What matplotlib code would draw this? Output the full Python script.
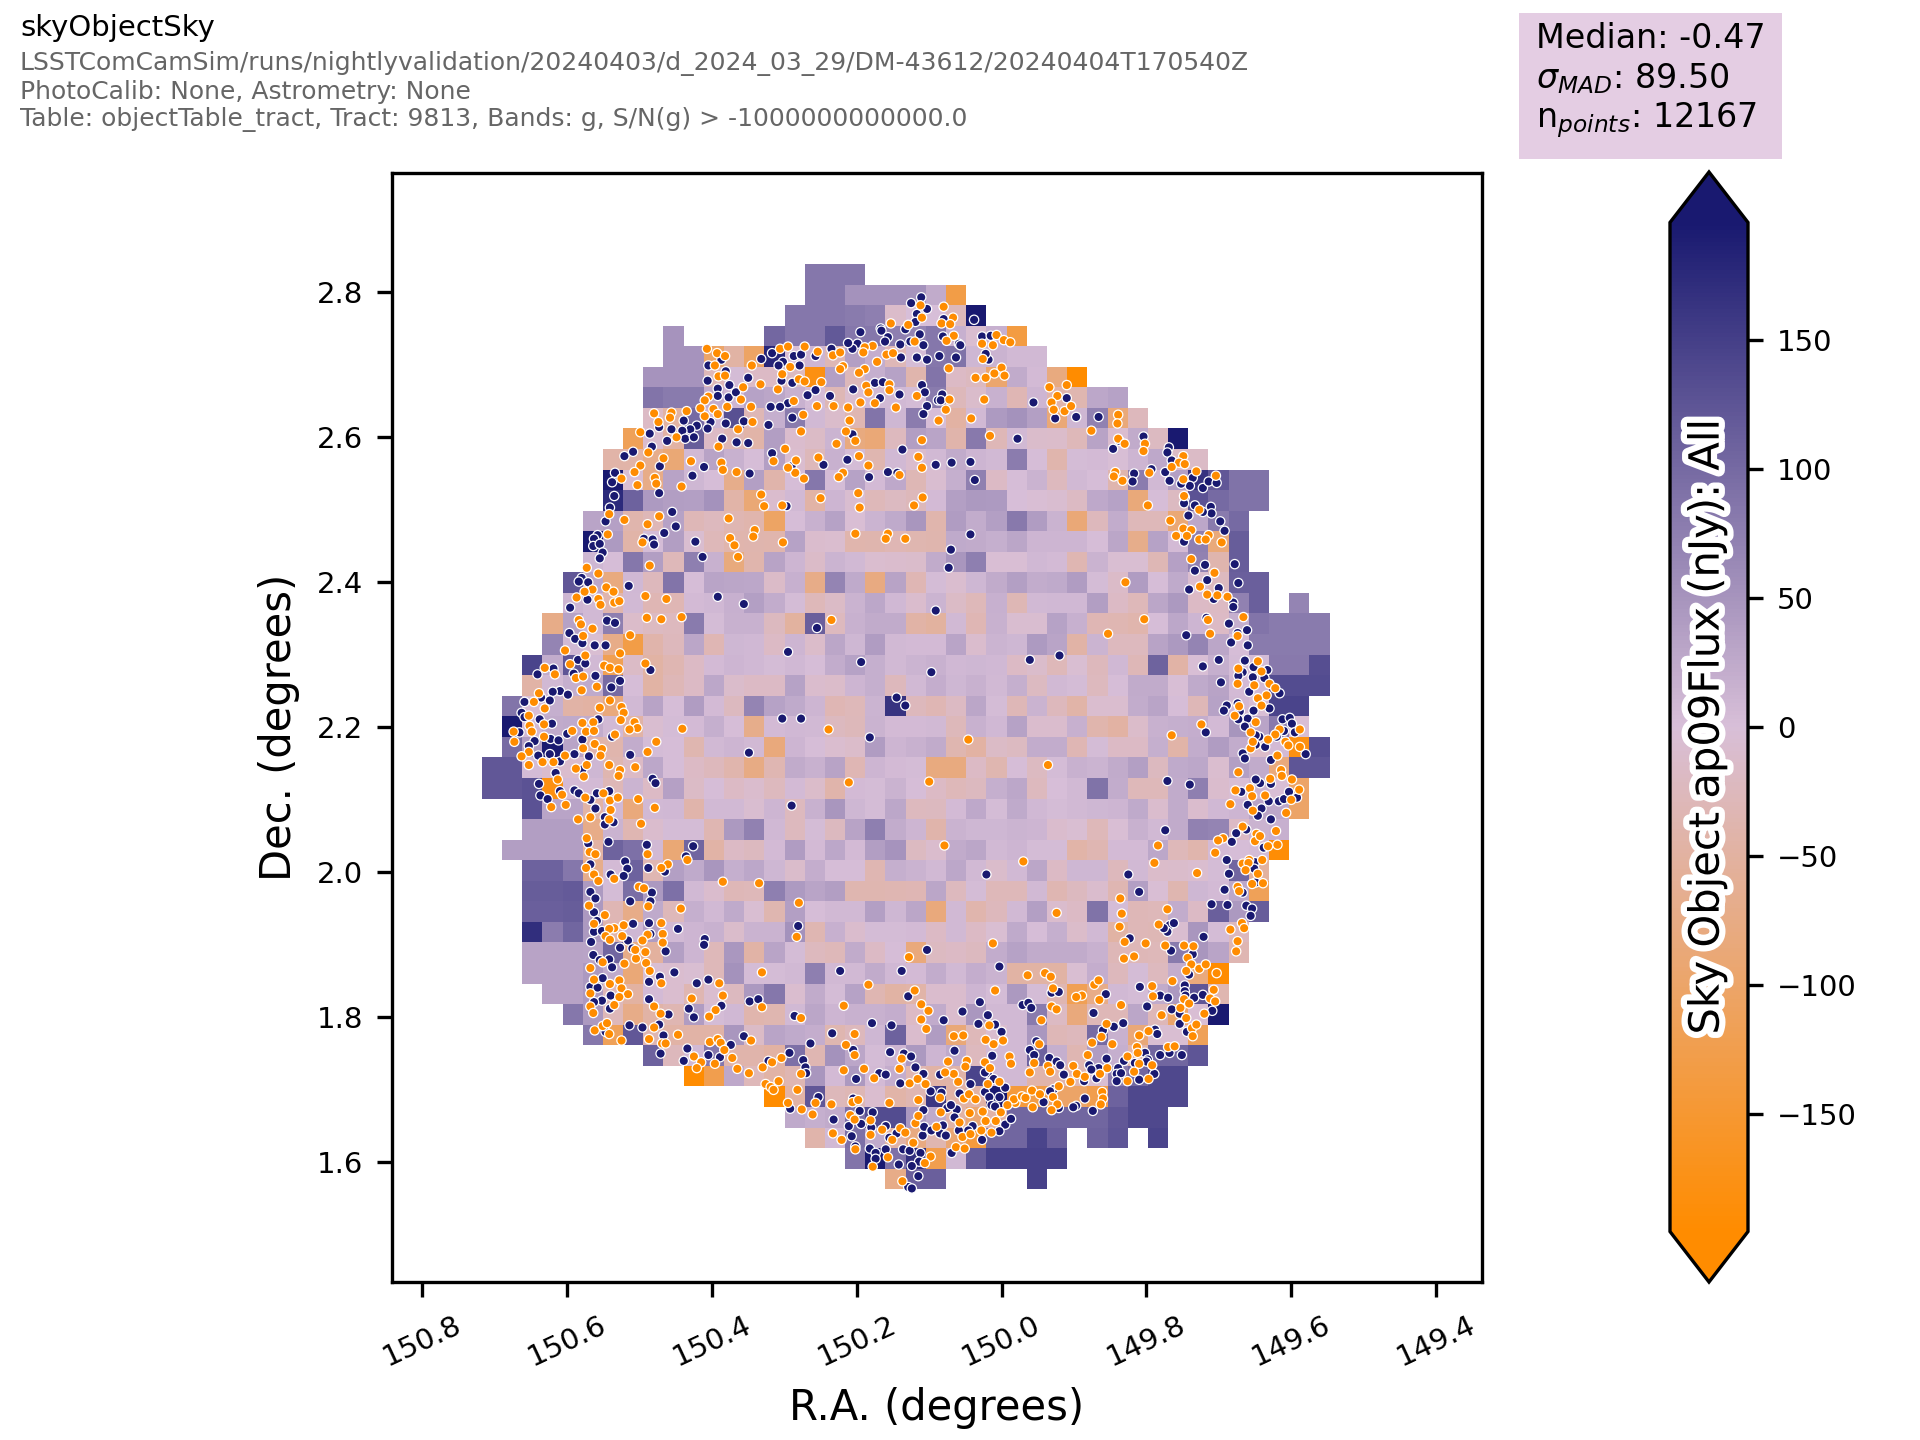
import matplotlib
matplotlib.use("Agg")
import numpy as np
import matplotlib.pyplot as plt
import matplotlib.patheffects as pe
from matplotlib.colors import LinearSegmentedColormap, Normalize
from matplotlib.cm import ScalarMappable
from matplotlib.patches import Rectangle

_ = float('nan')
# median flux per sky bin (nJy), north to south, east to west
flux_rows = [
[_]*16+[85,85,85],
[_]*16+[85,85,68,68,68,68,31,-130],
[_]*15+[85,85,85,80,75,-17,0,0,-35,197],
[_]*9+[65]+[_]*4+[103,85,85,120,85,85,75,70,85,22,-8,22,-135],
[_]*9+[65,65,-100,-60,-105,180,-5,15,-40,48,27,-38,5,85,90,12,18,8,8],
[_]*8+[65,65,65,-37,5,-22,-22,-26,-180,48,-35,25,45,-50,88,-22,-28,-95,31,7,-80,-197],
[_]*8+[88,80,80,28,15,45,38,20,4,-40,-10,8,8,5,80,-35,-14,20,-42,15,-52,-47,36,45],
[_]*8+[-22,-60,100,12,130,-40,25,80,8,-14,-45,88,13,78,3,-62,8,55,68,48,-88,13,72,-85,-32],
[_]*7+[-115,-12,-62,115,-22,-40,-55,50,-12,-20,16,-80,-88,-30,50,40,-52,82,-38,8,-14,-17,-36,42,-10,30,-26,197],
[_]*6+[-55,-55,-70,-90,8,42,20,3,48,-10,-35,20,5,-46,9,-12,8,30,15,8,78,2,-50,4,6,-3,15,35,-20,-20],
[_]*6+[197,-6,-72,42,13,3,-70,48,-52,3,85,4,45,7,35,-40,-8,25,74,-22,3,19,-30,8,3,-48,78,8,48,165,122,90,90],
[_]*6+[175,110,55,50,48,68,-55,-90,-12,8,-58,15,-8,-36,-26,-35,6,48,58,55,0,-4,-8,-24,35,45,-85,2,-26,128,100,90,90],
[_]*5+[40,46,-50,-38,45,-38,-30,-45,-50,-105,3,20,45,-4,16,32,62,-50,52,28,48,82,52,18,-88,-32,28,-36,-36,-90,36,80,100],
[_]*5+[197,55,-55,5,50,-8,-36,-50,-48,-50,45,-12,-10,-50,-48,-42,-46,-48,33,31,25,38,15,14,14,3,38,-70,45,7,75,-85,115],
[_]*5+[12,3,85,50,-36,75,20,-82,-50,42,14,-18,17,9,-10,-13,-14,31,62,75,-5,-4,10,7,-45,19,-6,-6,-40,47,72,-48,115],
[_]*4+[122,36,-80,10,-32,88,3,40,38,36,-18,22,-72,70,33,-78,43,-42,5,-10,12,30,48,28,33,52,4,-18,52,2,33,-10,-28,112,112],
[_]*4+[15,8,-50,8,-42,-42,7,10,22,48,28,5,-36,-20,18,37,10,-13,17,-20,-36,23,-40,9,10,11,50,-22,-36,38,58,-22,-24,72,112,_,70],
[_]*3+[-72,45,9,75,-17,-26,-30,80,5,21,21,-28,-65,112,-30,20,31,31,-58,-66,8,-42,21,-8,-8,45,22,-42,-44,-50,2,36,14,-22,25,88,80,80,80],
[_]*3+[70,8,-6,-72,-130,-52,-32,38,-42,13,10,-22,15,-16,38,13,52,8,6,7,40,-12,17,13,55,40,-58,17,-30,-30,43,58,70,38,3,80,80,80,80],
[_]*2+[145,28,125,8,-120,-20,-60,-44,-22,7,15,10,5,10,3,28,45,24,8,16,20,10,12,10,-22,-14,-36,-7,-32,10,-38,108,-58,-2,24,4,4,82,82,132],
[_]*2+[-58,8,25,33,98,3,-60,-38,-22,36,-14,-22,-22,45,-12,-16,15,24,-32,9,27,13,21,8,25,-26,9,5,-30,2,31,31,-3,33,42,6,9,135,135,135],
[_]*1+[88,-5,25,-58,-62,-84,9,42,3,52,7,-28,70,45,33,15,-42,-37,16,165,-32,-42,-24,38,4,-38,18,-32,-56,-11,-11,29,41,3,-38,44,9,-2,145,145],
[_]*1+[197,8,31,33,28,9,-58,-8,4,6,25,3,-70,6,11,8,-28,-34,18,6,7,9,-35,20,10,45,-12,-12,22,-50,-62,-17,20,25,26,7,64,41,82,-4],
[_]*1+[98,50,197,41,-52,-50,28,5,2,-46,9,14,8,-84,15,3,-11,-16,52,14,20,31,-46,-62,-20,-26,28,28,-42,5,-22,-22,25,-56,28,52,28,-16,6,-180,132],
[122,122,5,-12,-12,12,-46,-22,36,2,-22,-32,-50,-76,-44,31,20,42,-42,15,6,4,-80,-80,-22,-46,2,-27,5,20,16,31,48,-28,32,36,-11,48,30,-84,125,125],
[122,122,128,-180,7,7,-38,16,-22,46,-20,3,-22,-12,-30,6,-17,-52,6,4,18,3,-22,-36,-28,25,36,-30,0,8,90,28,-36,-36,31,75,-12,-3,16,-3,-102],
[_]*2+[128,41,41,-58,8,-84,8,11,-52,9,9,-8,14,-30,21,62,12,5,36,-30,-28,7,34,4,33,11,4,8,12,15,32,-13,31,-13,10,15,41,36,-102],
[_]*2+[50,50,50,-72,18,-44,-12,4,4,-44,58,72,11,-30,5,-28,43,75,28,15,-52,18,12,12,16,14,-13,-6,-36,-4,21,9,30,72,70,-22,18,22],
[_]*1+[50,50,50,50,-62,108,92,9,-90,105,-58,-22,-28,6,52,6,36,6,50,65,-26,-12,31,38,9,15,4,4,-55,-44,6,6,36,-36,-50,6,3,4,-190],
[_]*2+[110,110,85,-70,6,110,-44,48,33,62,25,36,13,-14,27,3,3,-44,25,18,8,36,8,-14,8,38,-22,12,13,-32,9,-17,-14,-11,4,105,-65],
[_]*2+[115,115,118,55,5,95,58,92,9,-12,-38,-36,76,55,41,50,-46,-46,-44,-42,38,-30,5,-37,-37,8,-44,-28,-12,-44,48,-4,-46,12,6,36,-115],
[_]*2+[112,112,115,58,-42,-72,33,-36,25,9,33,-6,-46,48,3,8,9,48,12,38,-84,9,-50,-32,8,48,-12,-22,90,4,-38,-37,29,-22,112,58,115],
[_]*2+[170,78,105,58,-52,13,52,9,15,20,-15,18,18,68,-44,23,-13,4,4,6,-22,9,-22,-7,33,2,25,-17,8,-60,-38,-40,-8,62,4,-32],
[_]*2+[42,42,42,41,105,-72,-68,48,15,-36,60,-58,41,4,-30,-36,31,-22,3,-84,-26,-22,-28,28,45,31,31,31,21,-38,-38,-36,80,62,41,-44],
[_]*2+[42,42,42,58,33,-88,-6,-10,-6,-36,68,4,4,9,75,9,8,31,11,7,28,9,27,18,-60,-60,-60,-6,27,-32,4,-30,27,-84,-197],
[_]*3+[42,42,58,-36,-64,6,-10,-44,-10,-28,58,85,-10,31,4,45,-44,-60,-56,-12,-12,15,4,58,4,-44,-118,-72,8,4,31,58,125,-46],
[_]*4+[85,57,-37,-72,-58,-44,52,5,11,-50,-46,8,38,15,21,21,27,-22,31,-13,60,8,8,80,-25,-84,-38,-38,38,-38,-100,-5,197],
[_]*5+[85,-115,122,-44,-58,-58,-58,62,-20,41,33,27,-46,-32,12,110,-13,52,-86,-37,-10,9,60,-38,-32,100,20,-86,-6,-6,-115],
[_]*8+[110,-32,8,85,-52,-52,-62,92,-44,68,38,4,15,58,15,33,-30,8,8,110,25,-44,52,25,-56,105,105,125],
[_]*10+[-197,-125,35,-36,-58,-44,62,6,58,6,26,-44,-58,-56,145,8,8,-52,-52,-46,-6,78,105,140,140],
[_]*14+[-197,-58,122,-35,-40,-10,-56,-44,160,-58,-58,197,-140,-130,-102,-102,-125,110,140,140,140],
[_]*15+[32,25,31,92,135,135,58,33,-58,-91,-58,105,105,105,105,105,122,140,140],
[_]*16+[-52,9,92,31,-58,-78,-46,-91,-140,105,105,145,112,_,108,125,_,145],
[_]*18+[88,197,92,170,-125,8,115,147,147,147,147],
[_]*20+[-72,112,112,_,_,_,_,147],
]

# outlier sky objects as (RA - 150 deg, Dec), both in millidegrees
low_north_east = [
(407,2721),(393,2715),(382,2711),(396,2698),(345,2698),(306,2721),(295,2724),(272,2724),(254,2717),(233,2712),(223,2716),(219,2697),(223,2693),(292,2696),(303,2686),(280,2679),(272,2676),(249,2675),(333,2672),(309,2665),(357,2668),(391,2683),(382,2684),(405,2655),(410,2650),(360,2651),(346,2641),(379,2641),(398,2638),(392,2631),(410,2628),(416,2639),(435,2635),(456,2633),(458,2626),(480,2632),(474,2620),(344,2620),(364,2610),(274,2630),(287,2649),(255,2642),(232,2642),(212,2640),(210,2622),(277,2607),(215,2607),(202,2594),(228,2590),(197,2573),(253,2571),(184,2560),(219,2550),(225,2544),(273,2542),(285,2550),(284,2567),(315,2566),(299,2583),(295,2557),(391,2586),(387,2564),(385,2554),(366,2551),(429,2566),(449,2599),(467,2570),(488,2578),(499,2606),(499,2560),(507,2551),(479,2543),(477,2535),(503,2533),(525,2542),(442,2531),(332,2520),(328,2504),(303,2505),(250,2515),(198,2522),(196,2502),(187,2670),(184,2661),(195,2647),(175,2646),(189,2693),(197,2688),(172,2703),(159,2713),(150,2715),(153,2756),(178,2725),(189,2723),(191,2716),(155,2672),(155,2664),(146,2640),(117,2656),(110,2595),(115,2572),(110,2557),(141,2547),(109,2516),(121,2505),(129,2754),(112,2781),(110,2764),(120,2731),(87,2622),
(521,2485),(473,2490),(489,2479),(496,2454),(377,2487),(341,2471),(343,2462),(375,2460),(369,2450),(364,2434),(302,2454),(202,2466),(157,2466),(160,2459),(133,2459),(486,2422),(544,2465),(542,2493),(573,2419),(557,2411),(565,2389),(546,2392),(536,2386),(576,2386),(587,2378),(557,2376),(554,2368),(535,2371),(528,2373),(492,2380),(463,2376),(490,2350),(470,2348),(442,2351),(235,2347),(584,2347),(581,2341),(565,2335),(578,2325),(513,2326),(603,2305),(575,2298),(527,2301),(596,2286),(549,2284),(541,2281),(529,2279),(492,2287),(631,2281),(617,2272),(588,2267),(578,2269),(559,2255),(580,2250),(639,2246),(646,2234),(631,2225),(541,2236),(525,2227),(555,2226),(522,2219),(526,2209),(579,2205),(564,2206),(507,2206),(503,2198),(514,2196),(441,2197),(239,2196),(652,2201),(653,2215),(674,2193),(649,2193),(632,2203),(632,2186),(593,2194),(574,2193),(563,2194),(534,2189),(673,2179),(578,2170),(562,2176),(477,2179),(489,2165),(552,2169),(554,2160),(653,2165),(663,2159),(603,2160),
]
high_north_east = [
(405,2698),(387,2706),(381,2690),(406,2677),(350,2681),(332,2707),(317,2715),(302,2703),(308,2698),(279,2698),(287,2711),(277,2713),(257,2711),(235,2721),(304,2677),(289,2674),(257,2664),(268,2657),(295,2646),(306,2641),(319,2641),(376,2671),(392,2666),(392,2656),(377,2654),(367,2661),(322,2616),(289,2626),(356,2621),(381,2618),(402,2620),(406,2611),(439,2622),(421,2615),(430,2610),(441,2608),(437,2597),(425,2599),(456,2610),(473,2613),(486,2604),(462,2594),(386,2597),(366,2592),(350,2591),(206,2603),(483,2586),(509,2579),(521,2573),(472,2559),(411,2558),(427,2546),(348,2549),(317,2577),(290,2559),(246,2561),(213,2568),(137,2582),(183,2544),(157,2551),(144,2550),(91,2561),(237,2656),(205,2665),(175,2674),(164,2675),(168,2653),(141,2658),(110,2671),(106,2661),(103,2642),(108,2631),(88,2650),(139,2709),(117,2709),(103,2706),(140,2727),(108,2726),(113,2741),(126,2731),(133,2748),(167,2749),(166,2746),(157,2737),(161,2731),(195,2744),(199,2728),(206,2721),(212,2729),(111,2792),(125,2784),(103,2776),(117,2769),(119,2758),
(534,2550),(538,2537),(535,2518),(473,2522),(541,2502),(547,2483),(455,2496),(450,2476),(466,2467),(423,2455),(413,2434),(494,2459),(482,2458),(480,2451),(558,2464),(563,2459),(564,2449),(555,2452),(551,2440),(555,2432),(297,2504),(515,2394),(580,2405),(571,2399),(584,2400),(572,2375),(596,2364),(392,2379),(356,2369),(91,2360),(545,2346),(534,2343),(255,2336),(597,2329),(589,2321),(579,2315),(562,2312),(547,2312),(295,2303),(194,2289),(97,2275),(585,2292),(575,2287),(619,2280),(641,2272),(591,2273),(561,2270),(527,2263),(539,2254),(485,2278),(610,2249),(620,2248),(599,2244),(636,2240),(624,2236),(659,2234),(663,2219),(638,2210),(659,2213),(666,2192),(621,2204),(557,2210),(600,2190),(645,2180),(623,2183),(612,2181),(579,2182),(538,2186),(303,2211),(277,2211),(145,2240),(133,2229),(182,2185),(513,2161),(349,2164),(624,2162),(590,2162),(570,2159),(653,2173),(640,2160),
]
low_north_west = [
(80,2779),(83,2756),(67,2764),(71,2755),(66,2739),(7,2740),(-3,2733),(-12,2730),(12,2726),(27,2728),(76,2732),(26,2707),(0,2695),(-4,2684),(10,2687),(22,2681),(36,2681),(73,2694),(-66,2668),(-90,2671),(-77,2656),(-69,2647),(-72,2637),(-87,2635),(-96,2642),(72,2651),(24,2651),(77,2637),(42,2625),(-161,2630),(-160,2618),(-124,2608),(16,2601),(-161,2597),(-170,2590),(-198,2590),(-196,2580),(-251,2573),(-245,2564),(-253,2562),(-235,2558),(-157,2551),(-155,2545),(-167,2539),(-204,2550),(-269,2552),(-296,2546),(-251,2541),(-202,2505),(-252,2518),(-273,2499),(-233,2484),(-251,2473),(-262,2471),(-241,2463),(-256,2463),(-286,2464),(-273,2458),(-282,2458),(-304,2454),(-262,2431),(-294,2412),(-274,2393),(-284,2382),(-298,2381),(-312,2379),(-171,2399),(-197,2348),(-285,2347),(-334,2351),(-147,2328),(-288,2328),(-326,2325),(-354,2290),(-359,2276),(-327,2280),(-326,2259),(-349,2257),(-370,2259),(-378,2253),(-366,2243),(-354,2239),(-359,2229),(-328,2228),(-322,2215),(-351,2206),(-276,2203),(-235,2188),(46,2182),(-344,2192),(-384,2196),(-412,2196),(-378,2189),(-368,2182),(-344,2170),(-392,2179),(-396,2174),(-412,2172),(-381,2160),(-347,2179),
]
high_north_west = [
(80,2762),(81,2738),(59,2728),(27,2738),(15,2739),(38,2761),(57,2726),(86,2711),(63,2709),(18,2706),(22,2714),(82,2658),(84,2650),(-44,2647),(-90,2653),(-74,2625),(-103,2627),(-134,2627),(-22,2597),(-163,2594),(-154,2583),(-196,2600),(-231,2585),(-229,2578),(-235,2567),(69,2564),(43,2565),(-183,2549),(-207,2555),(-226,2551),(-181,2538),(-232,2539),(37,2540),(-264,2543),(-260,2532),(-278,2529),(-286,2538),(-297,2536),(-248,2535),(-253,2516),(-252,2508),(-267,2505),(-289,2503),(-290,2494),(-278,2496),(-258,2491),(-302,2483),(-308,2470),(43,2465),(70,2444),(73,2419),(-252,2455),(-322,2424),(-281,2423),(-267,2415),(-284,2402),(-259,2389),(-327,2398),(-300,2391),(-293,2376),(-320,2371),(-320,2365),(-283,2350),(-314,2342),(-339,2333),(-326,2329),(-255,2326),(-317,2316),(-340,2312),(-39,2292),(-80,2298),(-300,2292),(-278,2283),(-336,2291),(-348,2282),(-333,2275),(-347,2268),(-327,2270),(-367,2278),(-363,2267),(-303,2261),(-384,2246),(-342,2248),(-311,2229),(-307,2222),(-329,2221),(-348,2222),(-370,2225),(-326,2232),(-340,2211),(-327,2210),(-336,2200),(-388,2210),(-398,2212),(-401,2204),(-405,2192),(-390,2194),(-282,2192),(-356,2186),(-351,2188),(-380,2186),(-420,2162),(-364,2172),(-351,2175),(-333,2163),(-336,2156),(-372,2154),
]
low_south_east = [
(653,2147),(634,2151),(619,2151),(613,2127),(607,2106),(622,2089),(602,2092),(588,2142),(573,2147),(577,2131),(542,2147),(527,2140),(529,2132),(506,2144),(550,2108),(575,2102),(541,2098),(530,2102),(502,2100),(479,2088),(540,2085),(568,2075),(585,2072),(542,2072),(498,2066),(573,2046),(569,2027),(561,2024),(489,2024),(461,2010),(470,2005),(434,2016),(574,2005),(563,1996),(557,1987),(535,1990),(501,1979),(494,1977),(385,1986),(335,1984),(570,1953),(488,1952),(548,1940),(443,1949),(280,1957),(563,1928),(535,1922),(542,1921),(522,1926),(470,1929),(468,1914),(489,1913),(524,1911),(547,1911),(541,1906),(468,1902),(496,1905),(492,1889),(505,1880),(506,1892),(491,1874),(521,1873),(551,1875),(568,1867),(486,1863),(331,1861),(563,1851),(528,1850),(470,1846),(541,1845),(525,1839),(568,1832),(516,1831),(528,1827),(390,1846),(385,1829),(428,1825),(568,1814),(535,1816),(564,1805),(480,1814),(471,1804),(395,1809),(404,1800),(331,1813),(277,1798),(283,1910),(218,1815),(184,1844),(211,2123),(100,2124),(120,1836),(128,1882),(111,1817),(101,1808),(111,1796),(104,1783),(203,1776),(562,1781),(551,1787),(545,1791),(542,1776),(480,1785),(525,1767),(487,1769),(469,1763),(464,1763),(447,1775),(403,1765),(392,1769),(388,1764),(383,1754),(346,1767),(372,1743),(425,1745),(415,1737),(421,1729),(396,1735),(365,1728),(349,1722),(330,1730),(317,1737),(304,1743),(277,1721),(308,1711),(326,1707),(319,1703),(315,1699),(282,1699),(295,1681),(276,1672),(261,1665),(235,1679),(218,1726),(190,1728),(176,1715),(215,1761),(203,1747),(141,1728),(138,1742),(127,1708),(116,1714),(105,1707),(115,1685),(155,1681),(206,1682),(198,1685),(257,1681),(209,1664),(203,1658),(181,1657),(181,1637),(233,1639),(221,1630),(202,1617),(157,1606),(178,1593),(165,1644),(140,1646),(119,1653),(115,1663),(133,1640),(151,1630),(122,1626),(98,1607),(106,1598),(137,1573),(90,1648),
]
high_south_east = [
(610,2152),(616,2136),(639,2121),(610,2111),(637,2105),(627,2100),(590,2112),(584,2108),(579,2141),(559,2108),(542,2111),(568,2099),(561,2087),(548,2075),(536,2068),(548,2065),(482,2128),(478,2122),(290,2091),(543,2041),(571,2039),(490,2037),(426,2035),(436,2021),(520,2014),(517,2004),(522,1994),(540,1996),(568,2010),(465,2000),(488,2005),(568,1972),(561,1963),(483,1971),(485,1959),(513,1959),(563,1944),(559,1932),(509,1928),(487,1929),(563,1917),(552,1918),(447,1921),(281,1925),(567,1903),(485,1914),(516,1905),(510,1894),(527,1895),(464,1890),(410,1907),(411,1899),(564,1885),(555,1878),(542,1879),(538,1868),(472,1855),(452,1861),(487,1848),(405,1851),(421,1846),(551,1853),(568,1841),(558,1840),(223,1863),(138,1863),(540,1829),(552,1822),(563,1820),(541,1811),(487,1824),(387,1815),(432,1811),(425,1799),(460,1803),(348,1821),(336,1824),(286,1801),(179,1791),(152,1788),(234,1777),(514,1788),(496,1785),(473,1789),(547,1779),(467,1774),(471,1749),(434,1756),(439,1739),(405,1747),(389,1744),(374,1761),(356,1773),(264,1763),(293,1750),(274,1740),(322,1739),(271,1730),(270,1722),(253,1689),(292,1673),(232,1658),(196,1670),(194,1652),(178,1668),(205,1687),(211,1649),(180,1647),(160,1649),(155,1633),(207,1635),(145,1639),(169,1722),(160,1720),(201,1714),(140,1708),(205,1754),(154,1751),(135,1749),(125,1745),(119,1730),(108,1721),(182,1618),(174,1612),(174,1604),(160,1617),(136,1617),(127,1615),(112,1612),(114,1600),(142,1596),(124,1594),(115,1580),(129,1565),(124,1563),(202,1621),(109,1636),(107,1648),(97,1643),(108,1671),(98,1697),(129,1828),(103,1892),
]
low_south_west = [
(79,2036),(-64,2147),(-327,2137),(-386,2140),(-387,2132),(-401,2127),(-371,2128),(-411,2113),(-323,2112),(-343,2115),(-346,2104),(-364,2105),(-316,2093),(-400,2099),(-347,2084),(-393,2081),(-333,2062),(-379,2056),(-352,2052),(-350,2042),(-357,2049),(-306,2046),(-299,2043),(-295,2026),(-216,2036),(-368,2035),(-381,2037),(-360,2016),(-342,2016),(-333,2011),(-341,2012),(-337,2002),(-354,1997),(-346,1983),(-361,1984),(-326,1979),(-328,1973),(-211,2012),(-270,1998),(-30,2014),(-164,1963),(-166,1942),(-229,1948),(-76,1943),(-217,1927),(-163,1924),(-332,1929),(-316,1920),(-335,1922),(-326,1904),(-324,1890),(-170,1903),(-199,1901),(-226,1898),(-252,1898),(-265,1897),(12,1901),(-183,1883),(-169,1880),(-257,1881),(-262,1872),(-273,1866),(-282,1872),(-297,1860),(-255,1863),(-236,1849),(-36,1857),(-60,1860),(-68,1855),(9,1836),(-71,1839),(-128,1844),(-134,1850),(-111,1829),(-103,1827),(-135,1823),(-208,1842),(-209,1828),(-293,1837),(-288,1825),(-295,1821),(-252,1824),(-247,1812),(-259,1818),(-280,1804),(-221,1802),(-255,1798),(-263,1784),(-269,1789),(-264,1773),(-165,1816),(-69,1814),(-76,1810),(-55,1795),(66,1773),(53,1774),(-145,1790),(-138,1772),(-125,1764),(-153,1762),(-190,1774),(-203,1780),(-187,1758),(-188,1750),(-174,1745),(-230,1758),(-239,1759),(17,1788),(22,1768),(11,1762),(-2,1767),(-52,1762),(-11,1745),(-13,1735),(-119,1747),(-45,1736),(23,1737),(16,1729),(74,1738),(48,1739),(50,1731),(-99,1732),(-64,1732),(-67,1724),(-39,1723),(-104,1721),(-115,1717),(-95,1710),(-79,1704),(-146,1729),(-136,1721),(-190,1735),(-183,1724),(-208,1733),(-203,1714),(-174,1711),(66,1721),(78,1723),(60,1710),(3,1710),(19,1707),(85,1688),(52,1687),(45,1693),(36,1686),(-19,1681),(-17,1686),(-28,1690),(-33,1688),(-42,1698),(-53,1693),(-71,1689),(-43,1675),(-77,1679),(-69,1671),(-139,1696),(-140,1687),(-137,1679),(-8,1678),(1,1668),(26,1669),(44,1667),(84,1668),(58,1654),(22,1656),(8,1656),(28,1643),(54,1634),(43,1638),(14,1640),(63,1620),(51,1618),
]
high_south_west = [
(-229,2125),(-260,2120),(-226,2057),(-331,2110),(-340,2092),(-357,2122),(-351,2127),(-372,2121),(-369,2097),(-383,2097),(-390,2100),(-397,2110),(-408,2102),(-359,2087),(-354,2077),(-372,2072),(-338,2058),(-324,2053),(-318,2041),(-362,2033),(-311,2016),(-350,2013),(-349,2004),(-314,1997),(-175,1996),(21,1996),(-190,1972),(-308,1975),(-333,1971),(-351,1985),(-290,1955),(-312,1954),(-338,1953),(-346,1949),(-344,1939),(-232,1926),(-238,1929),(-229,1917),(-224,1922),(-279,1910),(-177,1908),(-264,1886),(-234,1891),(-259,1858),(3,1869),(-191,1841),(-253,1843),(-253,1835),(-254,1829),(-219,1829),(-230,1826),(-266,1826),(-278,1830),(-69,1833),(-79,1834),(-144,1831),(30,1820),(-29,1816),(-37,1819),(-41,1812),(54,1807),(80,1795),(19,1802),(32,1790),(9,1789),(0,1779),(-201,1814),(-235,1810),(-246,1804),(-246,1790),(-291,1808),(-127,1805),(-155,1786),(-168,1791),(-140,1781),(-212,1782),(-215,1776),(-256,1779),(65,1753),(85,1720),(43,1707),(-48,1766),(-39,1754),(-45,1747),(13,1746),(-66,1743),(-76,1738),(-81,1733),(-145,1742),(-169,1739),(-121,1733),(-134,1729),(-124,1727),(-131,1715),(-86,1720),(-114,1711),(-161,1729),(-159,1721),(-165,1722),(-159,1711),(-184,1736),(-198,1750),(-202,1741),(-200,1738),(-219,1747),(-232,1750),(-249,1747),(-211,1721),(-190,1713),(19,1722),(23,1723),(11,1714),(-5,1702),(23,1696),(17,1689),(3,1689),(14,1678),(9,1676),(83,1695),(58,1694),(-72,1700),(-67,1697),(-58,1682),(-115,1687),(-103,1677),(-99,1675),(-126,1670),(-79,1674),(75,1674),(62,1672),(70,1678),(65,1661),(81,1650),(40,1649),(85,1639),(77,1636),(59,1643),(46,1643),(-5,1651),(3,1642),(27,1630),(-13,1659),(69,1612),
]

ra_bin_east, ra_bin_west = 150.718, 149.547
dec_bin_north, dec_bin_south = 2.838, 1.562
vlim = 195.6
low_flux, high_flux = -300.0, 300.0
# my readings of the pale bins ran too saturated against the colour scale
pale_limit, pale_reading_gain = 70.0, 0.78
xticks = [150.8,150.6,150.4,150.2,150.0,149.8,149.6,149.4]
yticks = [1.6,1.8,2.0,2.2,2.4,2.6,2.8]
cbar_ticks = [-150,-100,-50,0,50,100,150]

W,H = 1920,1440
cmap = LinearSegmentedColormap.from_list("orangeBlue",["darkorange","thistle","midnightblue"])
norm = Normalize(-vlim,vlim)
n_cols = 42
flux = np.array([r+[_]*(n_cols-len(r)) for r in flux_rows],dtype=float)
flux = np.where(np.abs(flux)<pale_limit,flux*pale_reading_gain,flux)
ra_edges = np.linspace(ra_bin_east,ra_bin_west,n_cols+1)
dec_edges = np.linspace(dec_bin_north,dec_bin_south,len(flux_rows)+1)

fig = plt.figure(figsize=(6.4,4.8),dpi=300)
ax = fig.add_axes([392/W,1-1282/H,(1481.6-392)/W,(1282-172.6)/H])
ax.pcolormesh(ra_edges,dec_edges,flux,cmap=cmap,norm=norm,shading='flat',antialiased=False,linewidth=0,zorder=1)

def unpack(*groups):
    pts = np.array(sum(groups,[]),dtype=float)
    return 150+pts[:,0]/1000, pts[:,1]/1000

hx,hy = unpack(high_north_east,high_north_west,high_south_east,high_south_west)
lx,ly = unpack(low_north_east,low_north_west,low_south_east,low_south_west)
ax.scatter(hx,hy,c=np.full(hx.size,high_flux),cmap=cmap,norm=norm,s=5,edgecolors='white',linewidths=0.3,zorder=3)
ax.scatter(lx,ly,c=np.full(lx.size,low_flux),cmap=cmap,norm=norm,s=5,edgecolors='white',linewidths=0.3,zorder=4)

ax.set_xlim(150.842,149.337); ax.set_ylim(1.434,2.964)
ax.set_xticks(xticks); ax.set_yticks(yticks)
ax.tick_params(axis='both',labelsize=7,width=0.8,length=3.5)
plt.setp(ax.get_xticklabels(),rotation=25,ha='center')
ax.set_xlabel("R.A. (degrees)",fontsize=10,labelpad=3.6)
ax.set_ylabel("Dec. (degrees)",fontsize=10,labelpad=4)

cax = fig.add_axes([1670/W,1-1282/H,78/W,(1282-172)/H])
cb = fig.colorbar(ScalarMappable(norm=norm,cmap=cmap),cax=cax,extend='both')
cb.set_ticks(cbar_ticks)
cb.ax.tick_params(labelsize=7,width=0.8,length=3.5)
cax.text(0.47,0.5,"Sky Object ap09Flux (nJy): All",rotation=90,ha='center',va='center',transform=cax.transAxes,fontsize=10,
  path_effects=[pe.withStroke(linewidth=3,foreground='w')])

fig.text(20/W,1-28/H,"skyObjectSky",fontsize=7,va='center')
fig.text(20/W,1-63/H,"LSSTComCamSim/runs/nightlyvalidation/20240403/d_2024_03_29/DM-43612/20240404T170540Z",fontsize=6,color='#666666',va='center')
fig.text(20/W,1-92/H,"PhotoCalib: None, Astrometry: None",fontsize=6,color='#666666',va='center')
fig.text(20/W,1-120/H,"Table: objectTable_tract, Tract: 9813, Bands: g, S/N(g) > -1000000000000.0",fontsize=6,color='#666666',va='center')
fig.patches.append(Rectangle((1519/W,1-159/H),263/W,146/H,transform=fig.transFigure,fc='#e4cde3',ec='none'))
fig.text(1536/W,1-39/H,"Median: -0.47",fontsize=8,va='center')
fig.text(1536/W,1-79/H,r"$\sigma_{MAD}$: 89.50",fontsize=8,va='center')
fig.text(1536/W,1-120/H,r"n$_{points}$: 12167",fontsize=8,va='center')
fig.savefig("out.png",dpi=300)
